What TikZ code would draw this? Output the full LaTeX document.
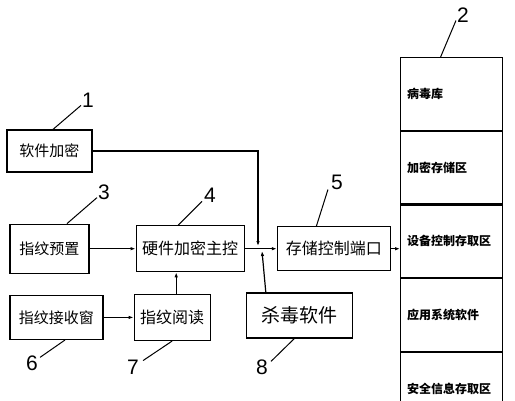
\documentclass[tikz,border=0pt]{standalone}
\usepackage{fontspec}
\setmainfont{Liberation Sans}
\newfontfamily\cjk{Noto Sans CJK SC}
\usepackage{tikz}
\usetikzlibrary{arrows.meta, positioning, calc}

\begin{document}
\begin{tikzpicture}[
        x=1pt, y=-1pt,
        box/.style={rectangle, draw, line width=1.2pt, inner sep=2pt, minimum height=44pt, font=\cjk\fontsize{15}{15}\selectfont},
        cell/.style={rectangle, draw, line width=1.2pt, minimum height=72.5pt, text width=89pt, inner xsep=6.5pt, align=left, font=\cjk\bfseries\fontsize{12}{12}\selectfont},
        num/.style={inner sep=0pt, font=\fontsize{21}{21}\selectfont},
        lead/.style={line width=1pt},
        arrow/.style={-{Latex[length=5pt,width=3.5pt]}, line width=1.2pt}
    ]
        \useasboundingbox (0,0) rectangle (515,400);
        \clip (0,0) rectangle (515,400);

        % boxes
        \node[box, minimum width=85pt, minimum height=42pt] (soft) at (49.5,151) {软件加密};
        \node[box, minimum width=79pt, minimum height=49pt, below=51pt of soft] (preset) {指纹预置};
        \node[box, minimum width=108pt, minimum height=46pt, right=46pt of preset, font=\cjk\fontsize{16}{16}\selectfont] (hwctrl) {硬件加密主控};
        \node[box, minimum width=93pt, anchor=north west] (recvwin) at ([yshift=-21pt]preset.south west) {指纹接收窗};
        \node[box, minimum width=76pt, minimum height=46pt, right=30pt of recvwin, font=\cjk\fontsize{16}{16}\selectfont] (reader) {指纹阅读};
        \node[box, minimum width=113pt, right=32pt of hwctrl, font=\cjk\fontsize{16}{16}\selectfont] (port) {存储控制端口};
        \node[box, minimum width=106pt, minimum height=45pt, below=21pt of port, xshift=-34.5pt, font=\cjk\fontsize{19}{19}\selectfont] (antivirus) {杀毒软件};

        % storage column
        \node[cell, anchor=north west] (c1) at (400,57) {病毒库};
        \node[cell, below=0pt of c1] (c2) {加密存储区};
        \node[cell, below=0pt of c2] (c3) {设备控制存取区};
        \node[cell, below=0pt of c3] (c4) {应用系统软件};
        \node[cell, below=0pt of c4] (c5) {安全信息存取区};

        % reference numbers
        \node[num] (n1) at (88,100) {1};
        \node[num] (n2) at (463,15) {2};
        \node[num] (n3) at (104,192) {3};
        \node[num] (n4) at (210,195) {4};
        \node[num] (n5) at (337,182) {5};
        \node[num] (n6) at (32,363) {6};
        \node[num] (n7) at (133,367) {7};
        \node[num] (n8) at (262,367) {8};

        \draw[lead] ([xshift=3.5pt]soft.north) -- ([xshift=-1pt,yshift=2pt]n1.south west);
        \draw[lead] ([xshift=-11pt]c1.north) -- ([xshift=-1pt,yshift=2pt]n2.south west);
        \draw[lead] ([xshift=17.5pt]preset.north) -- ([xshift=-1pt,yshift=2pt]n3.south west);
        \draw[lead] ([xshift=-12pt]hwctrl.north) -- ([xshift=-2pt,yshift=1pt]n4.south west);
        \draw[lead] ([xshift=-17.5pt]port.north) -- ([xshift=-3pt,yshift=0pt]n5.south west);
        \draw[lead] ([xshift=8.5pt]recvwin.south) -- ([xshift=2pt,yshift=-2pt]n6.north east);
        \draw[lead] (reader.south) -- ([xshift=4pt,yshift=-1pt]n7.north east);
        \draw[lead] ([xshift=-5pt]antivirus.south) -- ([xshift=3pt,yshift=-2pt]n8.north east);

        % connectors
        \coordinate (tap) at (258,246);
        \coordinate (tap2) at (262,251);
        \draw[arrow] (preset.east) -- (preset.east -| hwctrl.west);
        \draw[arrow] (recvwin.east) -- (recvwin.east -| reader.west);
        \draw[arrow] ([xshift=4pt]reader.north) -- ([xshift=4pt]reader.north |- hwctrl.south);
        \draw[arrow] (hwctrl.east) -- (hwctrl.east -| port.west);
        \draw[arrow] (soft.east) -| (tap);
        \draw[arrow] ([xshift=20pt]antivirus.north west) -- (tap2);
        \draw[arrow] (port.east) -- (port.east -| c3.west);
    \end{tikzpicture}
\end{document}
